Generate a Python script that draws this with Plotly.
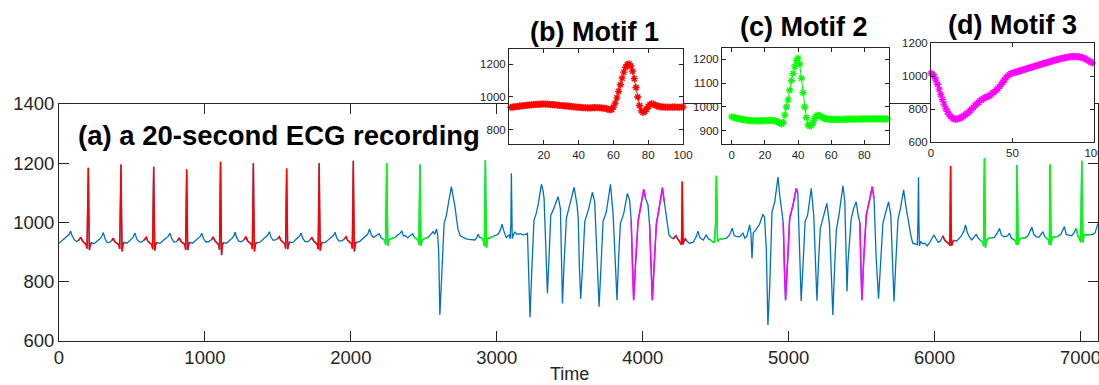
import plotly.graph_objects as go

# ---------------- main ECG recording: (time, value) points ----------------
ecg_time = [
    0, 15, 35, 55, 70, 80, 90, 105, 120, 135, 150, 160, 175, 186, 192, 196, 201, 204, 208, 213, 222,
    240, 260, 278, 292, 304, 315, 330, 345, 360, 372, 383, 398, 410, 416, 420, 425, 428, 432, 438, 446,
    465, 485, 505, 521, 532, 548, 565, 582, 598, 608, 622, 636, 642, 645, 649, 652, 656, 662, 670,
    690, 710, 730, 748, 761, 772, 788, 805, 815, 825, 835, 850, 862, 868, 871, 875, 878, 882, 888, 896,
    915, 935, 955, 968, 978, 990, 1005, 1025, 1045, 1057, 1068, 1082, 1095, 1100, 1103, 1107, 1110, 1114, 1120, 1128,
    1148, 1168, 1188, 1198, 1207, 1218, 1232, 1250, 1268, 1282, 1292, 1308, 1320, 1325, 1328, 1332, 1335, 1339, 1345, 1353,
    1372, 1392, 1412, 1430, 1442, 1453, 1468, 1488, 1500, 1510, 1520, 1535, 1548, 1553, 1556, 1560, 1563, 1567, 1573, 1581,
    1600, 1620, 1640, 1650, 1659, 1670, 1685, 1705, 1722, 1733, 1744, 1758, 1770, 1776, 1779, 1783, 1786, 1790, 1796, 1804,
    1823, 1843, 1863, 1880, 1892, 1903, 1918, 1938, 1955, 1967, 1978, 1992, 2005, 2010, 2013, 2017, 2020, 2024, 2030, 2038,
    2058, 2078, 2098, 2115, 2128, 2140, 2155, 2170, 2185, 2196, 2205, 2218, 2232, 2239, 2242, 2246, 2249, 2253, 2260, 2272,
    2290, 2305, 2320, 2335, 2349, 2360, 2372, 2390, 2405, 2423, 2435, 2450, 2462, 2467, 2470, 2473, 2476, 2480, 2488, 2500,
    2520, 2530, 2545, 2564, 2575, 2587, 2595, 2602, 2610, 2618, 2626, 2632, 2639, 2655, 2670, 2680, 2689, 2700, 2712, 2725,
    2735, 2750, 2769, 2790, 2810, 2830, 2849, 2862, 2872, 2882, 2895, 2908, 2915, 2918, 2922, 2925, 2929, 2936, 2950, 2965,
    2982, 2995, 3010, 3025, 3036, 3046, 3055, 3065, 3075, 3085, 3092, 3097, 3100, 3103, 3106, 3115, 3125, 3140, 3160, 3180,
    3195, 3203, 3210, 3218, 3228, 3240, 3255, 3270, 3283, 3306, 3316, 3324, 3335, 3347, 3358, 3370, 3385, 3397, 3420, 3436,
    3443, 3450, 3462, 3477, 3490, 3500, 3530, 3550, 3558, 3566, 3575, 3590, 3603, 3630, 3655, 3671, 3687, 3701, 3715, 3728,
    3751, 3779, 3797, 3810, 3824, 3835, 3847, 3870, 3895, 3910, 3921, 3930, 3938, 3952, 3968, 3984, 4007, 4020, 4036, 4047,
    4056, 4066, 4080, 4094, 4112, 4135, 4148, 4166, 4180, 4195, 4210, 4219, 4228, 4240, 4252, 4262, 4266, 4268, 4271, 4274,
    4277, 4284, 4292, 4300, 4320, 4345, 4365, 4379, 4390, 4402, 4415, 4435, 4450, 4465, 4478, 4492, 4500, 4505, 4509, 4513,
    4520, 4540, 4560, 4575, 4595, 4614, 4628, 4645, 4665, 4687, 4700, 4715, 4733, 4742, 4749, 4758, 4775, 4801, 4824, 4835,
    4847, 4858, 4870, 4877, 4886, 4905, 4927, 4940, 4954, 4963, 4970, 4979, 4993, 5007, 5030, 5052, 5063, 5075, 5086, 5100,
    5113, 5130, 5155, 5172, 5185, 5194, 5205, 5217, 5235, 5262, 5280, 5292, 5303, 5315, 5327, 5345, 5372, 5385, 5393, 5400,
    5407, 5429, 5445, 5463, 5478, 5488, 5495, 5502, 5515, 5532, 5552, 5573, 5585, 5600, 5616, 5630, 5646, 5663, 5685, 5700,
    5712, 5722, 5735, 5749, 5766, 5788, 5806, 5824, 5840, 5851, 5870, 5882, 5886, 5890, 5893, 5896, 5905, 5920, 5935, 5950,
    5970, 5995, 6010, 6025, 6040, 6057, 6070, 6085, 6100, 6105, 6107, 6110, 6113, 6117, 6125, 6135, 6150, 6165, 6180, 6200,
    6212, 6225, 6238, 6255, 6270, 6285, 6298, 6315, 6330, 6336, 6339, 6342, 6345, 6349, 6356, 6370, 6390, 6410, 6430, 6445,
    6458, 6475, 6500, 6514, 6525, 6545, 6558, 6561, 6563, 6566, 6569, 6572, 6580, 6595, 6620, 6640, 6655, 6667, 6680, 6695,
    6715, 6730, 6742, 6755, 6770, 6783, 6787, 6789, 6792, 6795, 6798, 6806, 6820, 6845, 6865, 6878, 6890, 6902, 6920, 6940,
    6955, 6970, 6982, 6995, 7002, 7005, 7009, 7012, 7016, 7025, 7045, 7065, 7085, 7100, 7110, 7120,
]
ecg_value = [
    930, 936, 945, 952, 960, 971, 955, 942, 936, 940, 950, 938, 931, 925, 912, 1040, 1185, 1040, 907, 922, 932,
    928, 935, 944, 952, 966, 946, 932, 933, 938, 947, 935, 930, 925, 911, 1050, 1196, 1050, 902, 925, 933,
    930, 938, 948, 964, 945, 935, 934, 940, 950, 938, 930, 926, 910, 1050, 1188, 1050, 905, 925, 933,
    929, 936, 946, 953, 964, 946, 934, 935, 940, 948, 936, 930, 926, 908, 1040, 1180, 1040, 907, 925, 933,
    930, 938, 946, 953, 964, 946, 935, 935, 942, 951, 938, 930, 925, 908, 1050, 1205, 1050, 890, 925, 932,
    930, 938, 948, 955, 967, 948, 937, 935, 942, 952, 938, 930, 926, 910, 1050, 1200, 1050, 902, 925, 933,
    932, 940, 950, 957, 969, 950, 940, 942, 946, 952, 940, 932, 928, 912, 1050, 1182, 1050, 910, 926, 934,
    932, 940, 950, 955, 964, 947, 936, 935, 942, 950, 938, 930, 926, 910, 1050, 1200, 1050, 905, 925, 933,
    932, 940, 950, 956, 967, 948, 938, 938, 944, 952, 940, 932, 928, 912, 1050, 1208, 1050, 902, 926, 934,
    935, 944, 952, 960, 978, 958, 950, 955, 960, 962, 950, 945, 940, 925, 1060, 1200, 1060, 922, 940, 945,
    948, 950, 958, 962, 972, 955, 956, 948, 955, 962, 950, 945, 940, 925, 1060, 1196, 1060, 922, 940, 945,
    948, 950, 958, 969, 960, 978, 958, 900, 688, 760, 845, 920, 997, 1025, 1070, 1100, 1121, 1090, 1059, 1010,
    975, 955, 949, 945, 943, 942, 941, 948, 960, 950, 948, 940, 920, 1060, 1211, 1060, 915, 945, 948, 952,
    954, 957, 960, 975, 994, 975, 958, 948, 955, 958, 945, 1000, 1166, 1000, 946, 960, 968, 960, 962, 958,
    960, 961, 965, 800, 680, 840, 1008, 1030, 1059, 1129, 1110, 1082, 900, 761, 880, 1025, 1040, 1059, 1087, 1047,
    900, 727, 870, 1014, 1040, 1059, 1119, 1059, 1014, 850, 742, 870, 1003, 1047, 1102, 1070, 890, 716, 860, 1003,
    1036, 1129, 1030, 870, 738, 880, 997, 1030, 1098, 1076, 1008, 850, 738, 870, 1003, 1047, 1112, 1081, 1060, 992,
    850, 738, 870, 997, 1047, 1118, 1070, 1003, 958, 950, 945, 952, 955, 945, 935, 930, 925, 1000, 1138, 1000,
    926, 940, 945, 938, 930, 933, 950, 971, 950, 945, 941, 958, 945, 941, 935, 933, 1000, 1158, 1000, 935,
    941, 945, 946, 947, 958, 981, 955, 952, 952, 964, 947, 955, 992, 960, 879, 965, 975, 995, 1028, 1017,
    910, 654, 780, 868, 1035, 1070, 1153, 1087, 1036, 1000, 850, 738, 870, 1014, 1059, 1115, 1098, 900, 735, 870,
    1003, 1025, 1115, 1025, 850, 736, 870, 980, 1014, 1065, 992, 850, 688, 850, 975, 1025, 1124, 1070, 900, 767,
    868, 1014, 1047, 1070, 1020, 1000, 850, 738, 880, 1025, 1070, 1121, 1081, 880, 743, 870, 997, 1030, 1070, 1025,
    880, 733, 870, 1008, 1047, 1110, 1047, 992, 950, 930, 926, 925, 1000, 1153, 1000, 921, 935, 928, 930, 921,
    935, 958, 945, 933, 937, 955, 940, 933, 928, 921, 1000, 1191, 1000, 921, 935, 940, 937, 945, 952, 970,
    992, 965, 952, 941, 950, 960, 948, 940, 933, 920, 1060, 1217, 1060, 915, 940, 947, 948, 950, 965, 980,
    958, 952, 955, 964, 947, 942, 935, 925, 1060, 1194, 1060, 925, 945, 947, 948, 955, 970, 984, 960, 952,
    950, 960, 969, 952, 945, 940, 925, 1060, 1196, 1060, 925, 950, 952, 953, 960, 975, 986, 960, 958, 955,
    965, 980, 955, 945, 933, 1060, 1208, 1060, 933, 958, 958, 958, 960, 965, 985, 997,
]

# occurrences of each motif in the recording (start, end)
motif1_segments = [(133, 233), (357, 457), (581, 681), (807, 907), (1039, 1139), (1264, 1364),
                   (1492, 1592), (1715, 1815), (1949, 2049), (4203, 4303), (6042, 6142)]
motif2_segments = [(2206, 2306), (2433, 2533), (2895, 2985), (4465, 4565), (6302, 6402),
                   (6526, 6626), (6752, 6852), (6969, 7069)]
motif3_segments = [(3921, 4022), (4047, 4150), (4963, 5066), (5488, 5590)]

# ---------------- motifs ----------------
motif1_index = list(range(1, 101))
motif1_values = [
    936, 938, 939, 941, 942, 944, 945, 946, 948, 949,
    950, 951, 952, 953, 954, 955, 955, 956, 956, 957,
    956, 956, 955, 954, 953, 952, 951, 950, 949, 948,
    947, 946, 945, 944, 943, 941, 940, 939, 938, 937,
    936, 935, 934, 934, 933, 933, 933, 934, 935, 935,
    934, 934, 933, 932, 931, 929, 925, 921, 924, 938,
    962, 995, 1035, 1075, 1115, 1152, 1182, 1199, 1203, 1190,
    1158, 1112, 1058, 1000, 948, 915, 906, 910, 925, 942,
    954, 958, 956, 951, 946, 942, 940, 939, 938, 938,
    937, 937, 937, 938, 938, 938, 937, 937, 938, 938,
]
motif2_index = list(range(0, 95))
motif2_values = [
    959, 957, 955, 953, 951, 950, 948, 947, 946, 945,
    944, 943, 943, 942, 942, 942, 942, 942, 942, 942,
    943, 943, 944, 944, 944, 943, 942, 940, 937, 932,
    928, 935, 966, 1000, 1030, 1070, 1110, 1140, 1170, 1195,
    1205, 1180, 1120, 1060, 1000, 955, 925, 920, 922, 935,
    952, 962, 966, 964, 960, 955, 952, 950, 949, 949,
    948, 948, 948, 948, 948, 948, 948, 948, 949, 949,
    949, 949, 949, 949, 949, 949, 949, 949, 949, 950,
    950, 950, 950, 950, 950, 950, 950, 950, 950, 950,
    950, 950, 950, 950, 950,
]
motif3_index = list(range(0, 100))
motif3_values = [
    1017, 1010, 995, 975, 950, 920, 888, 858, 830, 805,
    785, 768, 755, 746, 740, 738, 739, 742, 746, 752,
    758, 765, 772, 780, 790, 800, 810, 820, 830, 840,
    850, 856, 862, 868, 872, 876, 882, 890, 898, 905,
    915, 925, 935, 948, 962, 976, 990, 1000, 1008, 1014,
    1018, 1020, 1023, 1026, 1030, 1033, 1036, 1039, 1042, 1045,
    1048, 1051, 1054, 1057, 1060, 1063, 1066, 1069, 1072, 1075,
    1078, 1081, 1084, 1087, 1090, 1093, 1096, 1098, 1101, 1104,
    1106, 1108, 1110, 1112, 1114, 1116, 1117, 1118, 1118, 1118,
    1117, 1116, 1114, 1111, 1107, 1102, 1097, 1091, 1085, 1080,
]

BLUE = "#0072BD"
RED = "#FF0000"
GREEN = "#00FF00"
MAGENTA = "#FF00FF"
AX = "#262626"
FONT = "Liberation Sans, Arial, Helvetica, sans-serif"
W, H = 1099, 385


def segment_xy(segments):
    xs, ys = [], []
    for s, e in segments:
        for t, v in zip(ecg_time, ecg_value):
            if s <= t <= e:
                xs.append(t)
                ys.append(v)
        xs.append(None)
        ys.append(None)
    return xs, ys


fig = go.Figure()
fig.add_trace(go.Scatter(x=ecg_time, y=ecg_value, mode="lines",
                         line=dict(color=BLUE, width=1.3), xaxis="x", yaxis="y"))
for segs, col in [(motif1_segments, RED), (motif2_segments, GREEN), (motif3_segments, MAGENTA)]:
    sx, sy = segment_xy(segs)
    fig.add_trace(go.Scatter(x=sx, y=sy, mode="lines", line=dict(color=col, width=1.5),
                             xaxis="x", yaxis="y", connectgaps=False))

for idx, vals, col, ax in [(motif1_index, motif1_values, RED, "2"),
                           (motif2_index, motif2_values, GREEN, "3"),
                           (motif3_index, motif3_values, MAGENTA, "4")]:
    fig.add_trace(go.Scatter(x=idx, y=vals, mode="lines+markers",
                             line=dict(color=col, width=1),
                             marker=dict(symbol="asterisk-open", size=6, color=col,
                                         line=dict(color=col, width=1.3)),
                             xaxis="x" + ax, yaxis="y" + ax, cliponaxis=False))


def px_x(p):
    return p / W


def px_y(p):
    return 1 - p / H


def axis(dom, rng, tickvals, ticklen, fsize, anchor):
    return dict(domain=dom, range=rng, tickvals=tickvals, ticks="inside", ticklen=ticklen,
                tickcolor=AX, tickwidth=1, showline=True, linecolor=AX, linewidth=1,
                mirror="allticks", showgrid=False, zeroline=False, anchor=anchor,
                automargin=False, ticklabeloverflow="allow",
                tickfont=dict(family=FONT, size=fsize, color=AX))


layout = dict(
    width=W, height=H, margin=dict(l=0, r=0, t=0, b=0, autoexpand=False),
    paper_bgcolor="white", plot_bgcolor="white", showlegend=False, template="none",
    xaxis=axis([px_x(59), px_x(1098)], [0, 7120], [0, 1000, 2000, 3000, 4000, 5000, 6000, 7000], 10, 18.5, "y"),
    yaxis=axis([px_y(341), px_y(104)], [600, 1400], [600, 800, 1000, 1200, 1400], 10, 18.5, "x"),
    xaxis2=axis([px_x(509), px_x(683)], [0, 100], [20, 40, 60, 80, 100], 4, 11.5, "y2"),
    yaxis2=axis([px_y(144), px_y(49)], [712, 1294], [800, 1000, 1200], 4, 11.5, "x2"),
    xaxis3=axis([px_x(722), px_x(889)], [-5.9, 94.9], [0, 20, 40, 60, 80], 4, 11.5, "y3"),
    yaxis3=axis([px_y(144), px_y(48)], [845, 1247], [900, 1000, 1100, 1200], 4, 11.5, "x3"),
    xaxis4=axis([px_x(931), px_x(1094)], [0, 100], [0, 50, 100], 4, 11.5, "y4"),
    yaxis4=axis([px_y(142), px_y(43)], [600, 1200], [600, 800, 1000, 1200], 4, 11.5, "x4"),
)
fig.update_layout(**layout)

annots = [
    dict(text="<b>(a) a 20-second ECG recording</b>", x=px_x(76), y=px_y(135), xanchor="left",
         yanchor="middle", size=27.5),
    dict(text="<b>(b) Motif 1</b>", x=px_x(594), y=px_y(32), xanchor="center", yanchor="middle", size=27),
    dict(text="<b>(c) Motif 2</b>", x=px_x(804), y=px_y(27), xanchor="center", yanchor="middle", size=27),
    dict(text="<b>(d) Motif 3</b>", x=px_x(1012), y=px_y(25), xanchor="center", yanchor="middle", size=27),
    dict(text="Time", x=px_x(569), y=px_y(374), xanchor="center", yanchor="middle", size=18),
]
for a in annots:
    fig.add_annotation(text=a["text"], x=a["x"], y=a["y"], xref="paper", yref="paper",
                       xanchor=a["xanchor"], yanchor=a["yanchor"], showarrow=False,
                       font=dict(family=FONT, size=a["size"], color="black" if a["size"] > 20 else AX))

fig.write_html("out.html", config={"displayModeBar": False},
               post_script="document.body.style.margin='0';document.body.style.overflow='hidden';")
